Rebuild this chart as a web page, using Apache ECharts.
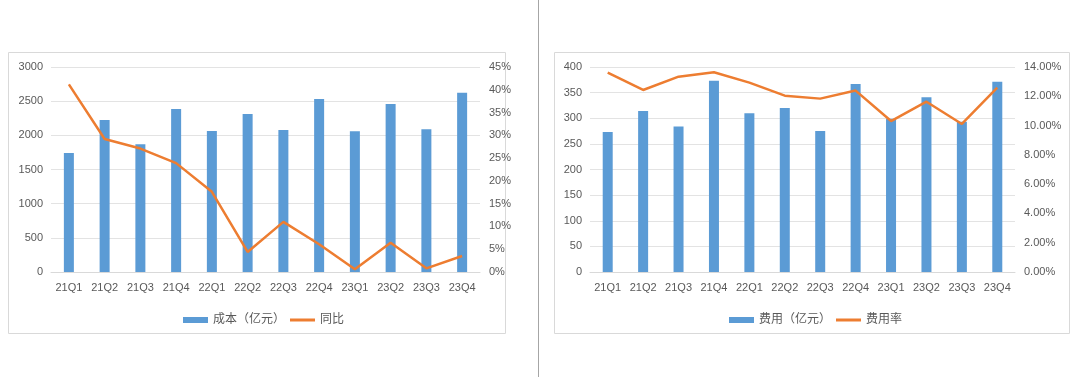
<!DOCTYPE html>
<html>
<head>
    <meta charset="utf-8">
    <script src="https://cdn.jsdelivr.net/npm/echarts@6/dist/echarts.min.js"></script>
    <style>
        html, body { margin: 0; padding: 0; background: #fff; }
    </style>
</head>
<body>
    <div id="main" style="width: 1080px;height:377px;"></div>
    <script type="text/javascript">
        // 季度
        var quarters = ['21Q1', '21Q2', '21Q3', '21Q4', '22Q1', '22Q2', '22Q3', '22Q4', '23Q1', '23Q2', '23Q3', '23Q4'];
        // 左图：成本 & 同比(%)
        var costValues = [1740, 2225, 1870, 2385, 2063, 2312, 2078, 2532, 2059, 2459, 2088, 2624];
        var costYoy = [41.2, 29.2, 27.1, 23.9, 17.6, 4.4, 11.0, 6.1, 0.6, 6.4, 0.8, 3.5];
        // 右图：费用 & 费用率(%)
        var feeValues = [273, 314, 284, 373, 310, 320, 275, 367, 299, 341, 293, 371];
        var feeRate = [13.62, 12.43, 13.34, 13.64, 12.93, 12.04, 11.84, 12.39, 10.31, 11.63, 10.11, 12.59];

        var barColor = '#5b9bd5';
        var lineColor = '#ed7d31';
        var txtColor = '#595959';
        var gridColor = '#e3e3e3';
        var font = '"Liberation Sans", "Noto Sans CJK SC", sans-serif';
        var lineIcon = 'path://M0,0H25V3H0Z';

        var myChart = echarts.init(document.getElementById('main'));

        function xAxisOf(gi) {
            return {
                type: 'category',
                gridIndex: gi,
                data: quarters,
                axisTick: { show: false },
                axisLine: { lineStyle: { color: '#d9d9d9' } },
                axisLabel: { color: txtColor, fontSize: 11, margin: 10, fontFamily: font }
            };
        }
        function yLeftOf(gi, max, interval) {
            return {
                type: 'value',
                gridIndex: gi,
                min: 0, max: max, interval: interval,
                axisLine: { show: false },
                axisTick: { show: false },
                splitLine: { lineStyle: { color: gridColor } },
                axisLabel: { color: txtColor, fontSize: 11, margin: 8, fontFamily: font, formatter: function (v) { return String(v); } }
            };
        }
        function yRightOf(gi, max, interval, fmt) {
            return {
                type: 'value',
                gridIndex: gi,
                position: 'right',
                min: 0, max: max, interval: interval,
                axisLine: { show: false },
                axisTick: { show: false },
                splitLine: { show: false },
                axisLabel: { color: txtColor, fontSize: 11, margin: 9, fontFamily: font, formatter: fmt }
            };
        }

        var option = {
            animation: false,
            textStyle: { fontFamily: font },
            graphic: [
                { type: 'rect', shape: { x: 8.5, y: 52.5, width: 497, height: 281 }, style: { fill: 'none', stroke: '#d9d9d9', lineWidth: 1 } },
                { type: 'rect', shape: { x: 554.5, y: 52.5, width: 515, height: 281 }, style: { fill: 'none', stroke: '#d9d9d9', lineWidth: 1 } },
                { type: 'line', shape: { x1: 538.5, y1: 0, x2: 538.5, y2: 377 }, style: { stroke: '#a6a6a6', lineWidth: 1 } }
            ],
            grid: [
                { left: 51, right: 600, top: 67, bottom: 105 },
                { left: 590, right: 65, top: 67, bottom: 105 }
            ],
            legend: [
                {
                    left: 178, top: 309, itemWidth: 25, itemHeight: 6, itemGap: 5,
                    textStyle: { color: txtColor, fontSize: 12 },
                    data: [{ name: '成本（亿元）', icon: 'rect' }, { name: '同比', icon: lineIcon }]
                },
                {
                    left: 724, top: 309, itemWidth: 25, itemHeight: 6, itemGap: 5,
                    textStyle: { color: txtColor, fontSize: 12 },
                    data: [{ name: '费用（亿元）', icon: 'rect' }, { name: '费用率', icon: lineIcon }]
                }
            ],
            xAxis: [xAxisOf(0), xAxisOf(1)],
            yAxis: [
                yLeftOf(0, 3000, 500),
                yRightOf(0, 45, 5, '{value}%'),
                yLeftOf(1, 400, 50),
                yRightOf(1, 14, 2, function (v) { return v.toFixed(2) + '%'; })
            ],
            series: [
                {
                    name: '成本（亿元）', type: 'bar', xAxisIndex: 0, yAxisIndex: 0,
                    barWidth: 10, itemStyle: { color: barColor }, data: costValues
                },
                {
                    name: '同比', type: 'line', xAxisIndex: 0, yAxisIndex: 1,
                    symbol: 'none', lineStyle: { color: lineColor, width: 2.5 },
                    itemStyle: { color: lineColor }, data: costYoy
                },
                {
                    name: '费用（亿元）', type: 'bar', xAxisIndex: 1, yAxisIndex: 2,
                    barWidth: 10, itemStyle: { color: barColor }, data: feeValues
                },
                {
                    name: '费用率', type: 'line', xAxisIndex: 1, yAxisIndex: 3,
                    symbol: 'none', lineStyle: { color: lineColor, width: 2.5 },
                    itemStyle: { color: lineColor }, data: feeRate
                }
            ]
        };
        myChart.setOption(option);
    </script>
</body>
</html>
